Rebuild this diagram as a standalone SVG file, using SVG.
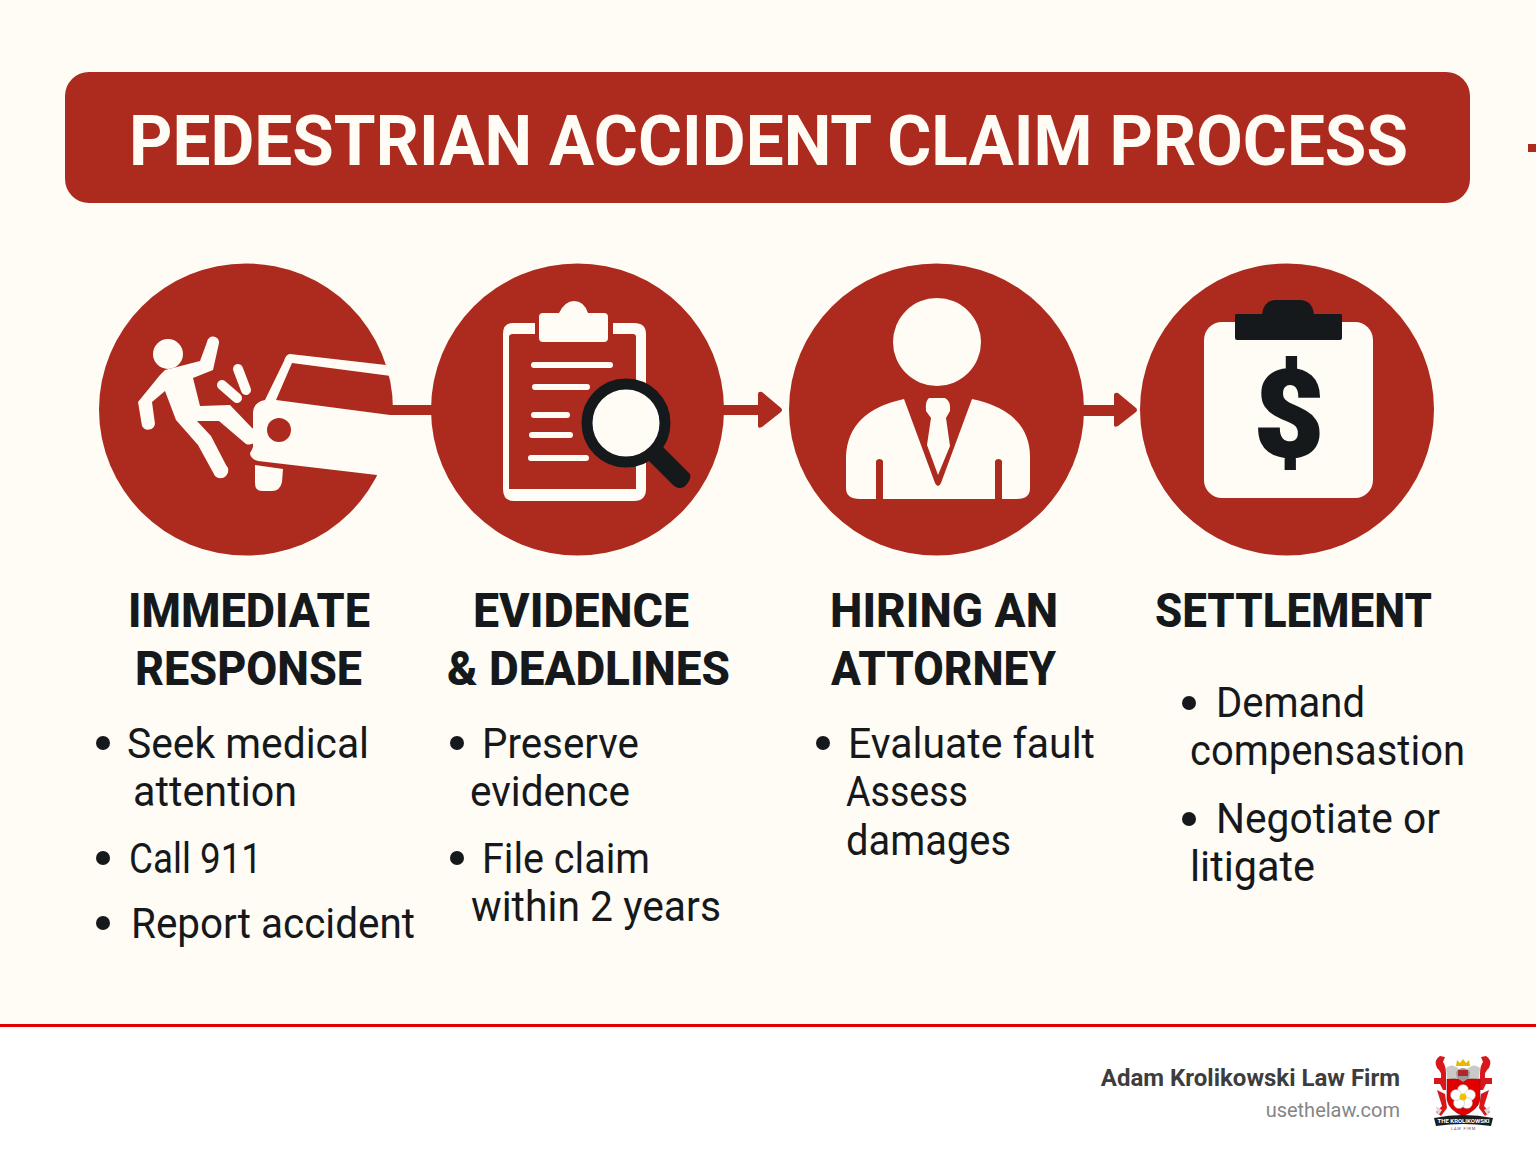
<svg xmlns="http://www.w3.org/2000/svg" width="1536" height="1154" viewBox="0 0 1536 1154">
<style>
.r{fill:#ad2a1f}.c{fill:#fffcf5}.k{fill:#16191b}
.cs{stroke:#fffcf5;fill:none;stroke-linecap:round;stroke-linejoin:round}
.h{font-family:Roboto,"Liberation Sans",sans-serif;font-weight:800;font-size:49px;fill:#16191b}
.b{font-family:Roboto,"Liberation Sans",sans-serif;font-size:43px;fill:#16191b}
.d{fill:#16191b}
</style>
<rect width="1536" height="1154" fill="#fffcf5"/>
<rect y="1026" width="1536" height="128" fill="#fff"/>
<rect y="1024" width="1536" height="3" fill="#e00000"/>
<g id="title">
<rect class="r" x="65" y="72" width="1405" height="131" rx="24"/>
<text x="129" y="165" font-family="Roboto,'Liberation Sans',sans-serif" font-weight="700" font-size="71" fill="#fffcf5" textLength="1279" lengthAdjust="spacingAndGlyphs">PEDESTRIAN ACCIDENT CLAIM PROCESS</text>
<rect class="r" x="1528" y="144" width="8" height="8"/>
</g>
<g id="connectors">
<rect class="r" x="385" y="405" width="50" height="10"/>
<path class="r" d="M720 405H758V394Q758 391 762 392L781 408Q783 410 781 412L762 427Q758 429 758 426V415H720Z"/>
<path class="r" d="M1080 405H1114V395Q1114 392 1118 393L1136 408Q1138 410 1136 412L1118 426Q1114 428 1114 425V416H1080Z"/>
</g>
<g id="step1">
<ellipse class="r" cx="246" cy="409.5" rx="147" ry="146"/>
<path class="c" d="M290 354L386 365L391 376L292 363L276 400L390 415H393V480H400L377 475L258 461Q250 459 250 453Q252 450 253 447L253 412Q254 402 265 400L284 361Q286 354 290 354Z"/>
<path class="c" d="M378 475L393 477V416H390L378 414Z"/>
<circle class="r" cx="279" cy="430" r="12"/>
<path class="c" d="M255 465L283 469L282 482Q280 491 272 491H262Q255 491 255 483Z"/>
<circle class="c" cx="168" cy="354" r="15"/>
<path class="c" d="M165 370L200 361L207 342A6 6 0 0 1 219 343L213 370L193 378L200 406L230 405L252 428A7 7 0 0 1 246 444L219 421H197L211 436L226 465A6 6 0 0 1 215 476L198 445L176 420L165 391L152 402L155 424A7 7 0 0 1 142 426L138 402L160 375Z"/>
<path class="cs" stroke-width="10" d="M222 385L237 398M238 369L246 390"/>
</g>
<g id="step2">
<ellipse class="r" cx="577.5" cy="409.5" rx="146.5" ry="146"/>
<path class="c" d="M513 323H535V334H513Q509 334 509 337V489H636V384H646V489Q646 501 634 501H514Q503 501 503 489V334Q503 323 513 323ZM613 323H634Q646 323 646 334V384H636V337Q636 334 633 334H613Z"/>
<path class="c" d="M543 313H559Q565 301 574 301Q584 301 588 313H604Q608 313 608 317V338Q608 342 604 342H543Q539 342 539 338V317Q539 313 543 313Z"/>
<path class="cs" stroke-width="6" d="M534 365H610M535 387H587M534 415H567M532 435H570M531 458H586"/>
<path class="k" d="M660 444L690 474Q692 480 684 487Q678 490 673 485L643 455Z"/>
<circle cx="626" cy="423" r="39" fill="#fffcf5" stroke="#16191b" stroke-width="11"/>
</g>
<g id="step3">
<ellipse class="r" cx="936.5" cy="409.5" rx="147.5" ry="146"/>
<circle class="c" cx="937" cy="342" r="44"/>
<path class="c" d="M904 399L935 483Q938 489 941 483L972 399Q1029 411 1030 456V488Q1030 499 1017 499H1002V461A4 4 0 0 0 995 461V499H883V461A4 4 0 0 0 876 461V499H860Q846 499 846 488V456Q848 411 904 399Z"/>
<path class="c" d="M929 398H945Q951 401 950 411L946 418L950 446L938 475L927 445L931 418L926 411Q925 401 929 398Z"/>
</g>
<g id="step4">
<ellipse class="r" cx="1287" cy="409.5" rx="147" ry="146"/>
<rect class="c" x="1204" y="322" width="169" height="176" rx="18"/>
<path class="k" d="M1236 314H1262Q1264 300 1276 300H1300Q1312 300 1314 314H1341Q1342 314 1342 316V338Q1342 340 1340 340H1237Q1235 340 1235 338V316Q1235 314 1236 314Z"/>
<text x="1289" y="456" font-family="Roboto,'Liberation Sans',sans-serif" font-weight="900" font-size="120" fill="#16191b" text-anchor="middle" stroke="#16191b" stroke-width="2">$</text>
</g>
<g id="labels">
<text class="h" x="128" y="627" textLength="242" lengthAdjust="spacingAndGlyphs">IMMEDIATE</text><text class="h" x="135" y="685" textLength="227" lengthAdjust="spacingAndGlyphs">RESPONSE</text>
<text class="h" x="473" y="627" textLength="216" lengthAdjust="spacingAndGlyphs">EVIDENCE</text><text class="h" x="447" y="685" textLength="283" lengthAdjust="spacingAndGlyphs">&amp; DEADLINES</text>
<text class="h" x="830" y="627" textLength="228" lengthAdjust="spacingAndGlyphs">HIRING AN</text><text class="h" x="831" y="685" textLength="225" lengthAdjust="spacingAndGlyphs">ATTORNEY</text>
<text class="h" x="1155" y="627" textLength="277" lengthAdjust="spacingAndGlyphs">SETTLEMENT</text>
</g>
<g id="list1">
<circle class="d" cx="103" cy="743" r="7"/><text class="b" x="127" y="758" textLength="242" lengthAdjust="spacingAndGlyphs">Seek medical</text><text class="b" x="133" y="806" textLength="164" lengthAdjust="spacingAndGlyphs">attention</text>
<circle class="d" cx="103" cy="858" r="7"/><text class="b" x="129" y="873" textLength="133" lengthAdjust="spacingAndGlyphs">Call 911</text>
<circle class="d" cx="103" cy="923" r="7"/><text class="b" x="131" y="938" textLength="284" lengthAdjust="spacingAndGlyphs">Report accident</text>
</g>
<g id="list2">
<circle class="d" cx="457" cy="743" r="7"/><text class="b" x="482" y="758" textLength="157" lengthAdjust="spacingAndGlyphs">Preserve</text><text class="b" x="470" y="806" textLength="160" lengthAdjust="spacingAndGlyphs">evidence</text>
<circle class="d" cx="457" cy="858" r="7"/><text class="b" x="482" y="873" textLength="168" lengthAdjust="spacingAndGlyphs">File claim</text><text class="b" x="471" y="921" textLength="250" lengthAdjust="spacingAndGlyphs">within 2 years</text>
</g>
<g id="list3">
<circle class="d" cx="823" cy="743" r="7"/><text class="b" x="848" y="758" textLength="247" lengthAdjust="spacingAndGlyphs">Evaluate fault</text><text class="b" x="846" y="806" textLength="122" lengthAdjust="spacingAndGlyphs">Assess</text><text class="b" x="846" y="855" textLength="165" lengthAdjust="spacingAndGlyphs">damages</text>
</g>
<g id="list4">
<circle class="d" cx="1189" cy="703" r="7"/><text class="b" x="1216" y="717" textLength="149" lengthAdjust="spacingAndGlyphs">Demand</text><text class="b" x="1190" y="765" textLength="275" lengthAdjust="spacingAndGlyphs">compensastion</text>
<circle class="d" cx="1189" cy="819" r="7"/><text class="b" x="1216" y="833" textLength="224" lengthAdjust="spacingAndGlyphs">Negotiate or</text><text class="b" x="1190" y="881" textLength="125" lengthAdjust="spacingAndGlyphs">litigate</text>
</g>
<g id="footer">
<text x="1400" y="1086" font-family="Roboto,'Liberation Sans',sans-serif" font-weight="700" font-size="24" fill="#3d3d3d" text-anchor="end">Adam Krolikowski Law Firm</text>
<text x="1400" y="1117" font-family="Roboto,'Liberation Sans',sans-serif" font-size="20" fill="#858585" text-anchor="end">usethelaw.com</text>
<g id="crest">
<!-- mantling -->
<path fill="#c9c9c9" d="M1446 1068Q1452 1062 1460 1070L1456 1080L1447 1078ZM1480 1068Q1474 1062 1466 1070L1470 1080L1479 1078Z"/>
<path fill="#d8171a" d="M1440 1056Q1433 1060 1437 1068Q1442 1072 1441 1078H1434V1084H1440L1443 1090H1446V1074Q1446 1066 1443 1062L1445 1057ZM1486 1056Q1493 1060 1489 1068Q1484 1072 1485 1078H1492V1084H1486L1483 1090H1480V1074Q1480 1066 1483 1062L1481 1057Z"/>
<path fill="#d8171a" d="M1437 1090L1445 1094L1447 1108L1441 1116L1436 1112L1442 1106ZM1489 1090L1481 1094L1479 1108L1485 1116L1490 1112L1484 1106Z"/>
<path fill="#d8d8d8" d="M1436 1106L1442 1110L1438 1116ZM1490 1106L1484 1110L1488 1116Z"/>
<!-- shield -->
<path fill="#e00000" stroke="#8a1010" stroke-width=".6" d="M1447 1079H1480V1100Q1478 1110 1463 1116Q1449 1110 1447 1100Z"/>
<!-- rose -->
<g fill="#fff" stroke="#999" stroke-width=".4">
<circle cx="1463" cy="1090" r="5.5"/><circle cx="1470" cy="1095" r="5.5"/><circle cx="1467" cy="1103" r="5.5"/><circle cx="1459" cy="1103" r="5.5"/><circle cx="1456" cy="1095" r="5.5"/>
</g>
<circle cx="1463" cy="1097" r="3.5" fill="#f2c200"/>
<!-- helmet and crown -->
<path fill="#9a9a9a" d="M1456 1072Q1463 1064 1470 1072L1469 1078L1463 1082L1457 1078Z"/>
<path fill="#b3262a" d="M1458 1070H1468V1076H1458Z"/>
<path fill="#e8b800" d="M1456 1066L1457 1060L1460 1063L1463 1059L1466 1063L1469 1060L1470 1066Z"/>
<!-- banner -->
<path fill="#1c1c1c" d="M1434 1118Q1463 1112 1493 1118L1491 1126Q1463 1122 1436 1126Z"/>
<text x="1463.5" y="1123" font-family="Roboto,'Liberation Sans',sans-serif" font-weight="700" font-size="6" fill="#fff" text-anchor="middle" textLength="52" lengthAdjust="spacingAndGlyphs">THE KROLIKOWSKI</text>
<text x="1463.5" y="1130" font-family="Roboto,'Liberation Sans',sans-serif" font-size="4" fill="#555" text-anchor="middle" letter-spacing=".8">LAW FIRM</text>
</g>
</g>
</svg>
